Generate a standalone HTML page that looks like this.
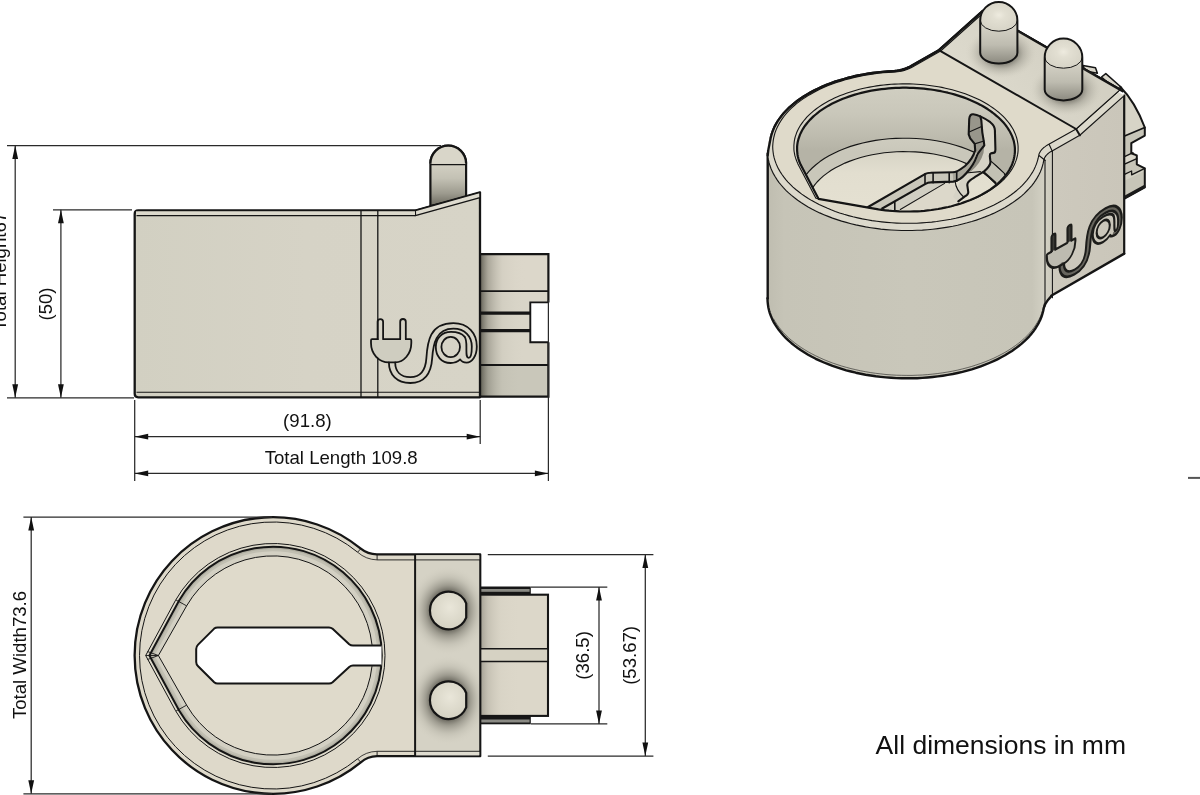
<!DOCTYPE html>
<html lang="en">
<head>
<meta charset="utf-8">
<title>Part drawing</title>
<style>
html,body{margin:0;padding:0;background:#fff;}
body{width:1200px;height:795px;overflow:hidden;font-family:"Liberation Sans",sans-serif;}
svg{display:block;}
svg text{font-family:"Liberation Sans",sans-serif;fill:#111;}
svg{will-change:transform;}
</style>
</head>
<body>
<svg width="1200" height="795" viewBox="0 0 1200 795">
<defs>
<linearGradient id="gBody" x1="0" y1="0" x2="1" y2="0">
  <stop offset="0" stop-color="#d2d0c2"/>
  <stop offset="0.5" stop-color="#d6d3c6"/>
  <stop offset="1" stop-color="#d7d4c7"/>
</linearGradient>
<linearGradient id="gConnH" x1="0" y1="0" x2="1" y2="0">
  <stop offset="0" stop-color="#3a392f" stop-opacity="0.75"/>
  <stop offset="0.18" stop-color="#6e6c60" stop-opacity="0.45"/>
  <stop offset="0.5" stop-color="#a09e90" stop-opacity="0.12"/>
  <stop offset="1" stop-color="#d8d4c6" stop-opacity="0"/>
</linearGradient>
<linearGradient id="gPinSide" gradientUnits="userSpaceOnUse" x1="0" y1="146" x2="0" y2="205">
  <stop offset="0" stop-color="#d9d6c9"/>
  <stop offset="0.32" stop-color="#d2cfc2"/>
  <stop offset="0.55" stop-color="#c3c1b4"/>
  <stop offset="0.8" stop-color="#9d9b8f"/>
  <stop offset="1" stop-color="#6f6d62"/>
</linearGradient>
<radialGradient id="gPinShadow" cx="0.5" cy="0.5" r="0.5">
  <stop offset="0" stop-color="#4d4b43" stop-opacity="0.9"/>
  <stop offset="0.44" stop-color="#55534a" stop-opacity="0.8"/>
  <stop offset="0.56" stop-color="#66645a" stop-opacity="0.5"/>
  <stop offset="0.75" stop-color="#8a887c" stop-opacity="0.2"/>
  <stop offset="1" stop-color="#d6d2c3" stop-opacity="0"/>
</radialGradient>
<radialGradient id="gPinTop" cx="0.55" cy="0.42" r="0.6">
  <stop offset="0" stop-color="#e9e6d9"/>
  <stop offset="1" stop-color="#d4d1c2"/>
</radialGradient>
<radialGradient id="gBoreRing" gradientUnits="userSpaceOnUse" cx="273" cy="655.5" r="109">
  <stop offset="0.9" stop-color="#d9d6c8"/>
  <stop offset="0.96" stop-color="#c4c2b4"/>
  <stop offset="1" stop-color="#a9a79a"/>
</radialGradient>
<linearGradient id="gIsoCyl" gradientUnits="userSpaceOnUse" x1="767" y1="0" x2="1052" y2="0">
  <stop offset="0" stop-color="#bfbdb0"/>
  <stop offset="0.06" stop-color="#c6c4b7"/>
  <stop offset="0.5" stop-color="#c9c7ba"/>
  <stop offset="0.93" stop-color="#c7c5b8"/>
  <stop offset="0.975" stop-color="#d3d1c4"/>
  <stop offset="1" stop-color="#cccabd"/>
</linearGradient>
<linearGradient id="gIsoFace" gradientUnits="userSpaceOnUse" x1="1052" y1="0" x2="1124" y2="0">
  <stop offset="0" stop-color="#cdc9bd"/>
  <stop offset="1" stop-color="#cac6ba"/>
</linearGradient>
<linearGradient id="gIsoWall" gradientUnits="userSpaceOnUse" x1="0" y1="85" x2="0" y2="150">
  <stop offset="0" stop-color="#d1cfc2"/>
  <stop offset="0.45" stop-color="#c9c7ba"/>
  <stop offset="0.8" stop-color="#bdbbae"/>
  <stop offset="1" stop-color="#b5b3a6"/>
</linearGradient>
<linearGradient id="gIsoLedge" gradientUnits="userSpaceOnUse" x1="0" y1="137" x2="0" y2="152">
  <stop offset="0" stop-color="#cfcdc0"/>
  <stop offset="1" stop-color="#c9c7ba"/>
</linearGradient>
<linearGradient id="gIsoFloor" gradientUnits="userSpaceOnUse" x1="0" y1="150" x2="0" y2="215">
  <stop offset="0" stop-color="#d6d3c5"/>
  <stop offset="0.35" stop-color="#e2decf"/>
  <stop offset="1" stop-color="#e5e1d2"/>
</linearGradient>
<linearGradient id="gIsoSlope" gradientUnits="userSpaceOnUse" x1="960" y1="90" x2="1040" y2="20">
  <stop offset="0" stop-color="#dedbce"/>
  <stop offset="1" stop-color="#d3d0c3"/>
</linearGradient>
<linearGradient id="gIsoPin" x1="0" y1="0" x2="0" y2="1">
  <stop offset="0" stop-color="#dddace"/>
  <stop offset="0.4" stop-color="#d4d1c5"/>
  <stop offset="0.7" stop-color="#bebcb0"/>
  <stop offset="1" stop-color="#8c8a80"/>
</linearGradient>
<radialGradient id="gIsoDome" cx="0.5" cy="0.45" r="0.7">
  <stop offset="0" stop-color="#eeebdf"/>
  <stop offset="0.25" stop-color="#e2dfd2"/>
  <stop offset="1" stop-color="#d2cfc2"/>
</radialGradient>
<radialGradient id="gIsoPinSh" cx="0.5" cy="0.5" r="0.5">
  <stop offset="0" stop-color="#55534a" stop-opacity="0.9"/>
  <stop offset="0.4" stop-color="#5f5d54" stop-opacity="0.7"/>
  <stop offset="0.6" stop-color="#7c7a70" stop-opacity="0.36"/>
  <stop offset="0.8" stop-color="#9a988c" stop-opacity="0.15"/>
  <stop offset="1" stop-color="#d6d2c3" stop-opacity="0"/>
</radialGradient>

</defs>
<rect width="1200" height="795" fill="#ffffff"/>
<g id="side-view">
<path d="M430.4,206 L430.4,163.5 A17.85,17.85 0 0 1 466.1,163.5 L466.1,198 Z" fill="url(#gPinSide)" stroke="#151515" stroke-width="2.2" stroke-linejoin="round"/>
<path d="M430.4,163.5 A17.85,17.85 0 0 1 466.1,163.5 Z" fill="#d9d6c9"/>
<path d="M430.4,163.5 A17.85,17.85 0 0 1 466.1,163.5" fill="none" stroke="#151515" stroke-width="2.2"/>
<line x1="430.4" y1="164.7" x2="466.1" y2="164.7" stroke="#151515" stroke-width="1.20" />
<rect x="480" y="254.1" width="68.4" height="142.5" fill="#d9d5c8"/>
<rect x="480" y="254.1" width="68.4" height="37" fill="#dcd7ca"/>
<rect x="480" y="365" width="68.4" height="31.6" fill="#c9c7ba"/>
<rect x="480" y="254.1" width="45" height="142.5" fill="url(#gConnH)"/>
<rect x="530.3" y="302.4" width="18.1" height="39.9" fill="#ffffff"/>
<path d="M480,254.1 L548.4,254.1 L548.4,302.4 M548.4,342.3 L548.4,396.6 L480,396.6" fill="none" stroke="#151515" stroke-width="2.2"/>
<line x1="480.0" y1="291.1" x2="548.4" y2="291.1" stroke="#151515" stroke-width="1.90" />
<path d="M548.4,302.4 L530.3,302.4 L530.3,342.3 L548.4,342.3" fill="none" stroke="#151515" stroke-width="1.9"/>
<line x1="480.0" y1="313.2" x2="530.3" y2="313.2" stroke="#151515" stroke-width="3.20" />
<line x1="480.0" y1="330.7" x2="530.3" y2="330.7" stroke="#151515" stroke-width="3.20" />
<line x1="480.0" y1="365.0" x2="548.4" y2="365.0" stroke="#151515" stroke-width="1.90" />
<path d="M138.2,210.5 L415.3,210.5 L480,192.4 L480,397.3 L138.2,397.3 Q134.7,397.3 134.7,393.8 L134.7,214 Q134.7,210.5 138.2,210.5 Z" fill="url(#gBody)" stroke="#151515" stroke-width="2.3" stroke-linejoin="round"/>
<path d="M415.3,210.5 L480,192.4 L480,197.6 L415.3,215.6 Z" fill="#dedbcf" stroke="#151515" stroke-width="1.5" stroke-linejoin="round"/>
<rect x="136" y="211.3" width="279" height="4" fill="#dcd9cc"/>
<line x1="136.5" y1="215.6" x2="415.3" y2="215.6" stroke="#151515" stroke-width="1.10" />
<line x1="136.5" y1="392.2" x2="480.0" y2="392.2" stroke="#151515" stroke-width="1.10" />
<line x1="361.0" y1="211.0" x2="361.0" y2="397.0" stroke="#151515" stroke-width="1.30" />
<line x1="377.8" y1="211.0" x2="377.8" y2="397.0" stroke="#151515" stroke-width="1.30" />
<g fill="none" stroke="#151515" stroke-width="1.8" stroke-linejoin="round" stroke-linecap="round">
<path d="M372,339.9 L410.4,339.9 L410.4,343 C410.4,354 403.8,361.6 395.2,361.6 L388.9,361.6 C379,361.6 372,354 372,343 Z" fill="#cfcdc0" stroke="none"/>
<path d="M377.6,339.2 L377.6,321.8 A2.75,2.75 0 0 1 383.1,321.8 L383.1,339.2 L400.2,339.2 L400.2,321.8 A2.75,2.75 0 0 1 405.8,321.8 L405.8,339.2 L410.3,339.2 Q411.3,339.2 411.3,340.4 L411.3,343 C411.3,354 403.8,362.3 395.2,362.3 C395.2,371.5 400.5,377.2 410.3,377.2 C420.5,377.2 425.6,370.5 426.4,358 C427.4,342 429.5,323.2 453.4,323.2 C468.2,323.2 476.8,333.5 476.8,346.5 C476.8,356.5 471.8,362.6 466.6,362.6 C463.4,362.6 461.2,361.2 460.2,359.4 C457.6,361.8 454.2,363 450.6,363 C441.2,363 435.8,355.8 435.8,347 C435.8,338 442,331.8 451,331.8 C457.5,331.8 462,333.4 464.6,336.8" /><path d="M377.6,339.2 L372,339.2 Q371,339.2 371,340.4 L371,343 C371,354 378.8,362.3 388.9,362.3 C388.9,375 397,383 410.3,383 C424.5,383 431.2,373.6 432.2,358 C433.2,344 436,328.7 453.4,328.7 C465,328.7 471.8,336.4 471.8,346.5 C471.8,353 470.9,357.8 468.7,357.8 C466.5,357.8 466.4,355 466.4,350 C466.4,344 466.8,339.6 464.6,336.8" /><path d="M388.9,362.3 L395.2,362.3" /><ellipse cx="450.7" cy="347" rx="9.3" ry="10.2"/>
</g>
</g>
</g>
<g id="top-view">
<rect x="480" y="586.5" width="50.8" height="137.8" fill="#161616"/>
<rect x="481" y="589" width="48.6" height="2.8" fill="#8a8a84"/>
<rect x="481" y="719.5" width="48.6" height="3" fill="#8a8a84"/>
<rect x="480" y="594.7" width="68" height="121.2" fill="#dcd7c9" stroke="#151515" stroke-width="2.1"/>
<rect x="480.9" y="595.6" width="40" height="119.4" fill="url(#gConnH)" opacity="0.45"/>
<rect x="480.9" y="649" width="66.2" height="12.6" fill="#d6d2c3"/>
<line x1="480.0" y1="648.8" x2="548.0" y2="648.8" stroke="#151515" stroke-width="1.50" />
<line x1="480.0" y1="661.6" x2="548.0" y2="661.6" stroke="#151515" stroke-width="1.50" />
<path d="M414.9,554.4 L480.2,554.4 L480.2,756.2 L377.1,756.2 A25.6,25.6 0 0 0 360.8,762.3 A138.3,138.3 0 1 1 360.8,548.7 A25.6,25.6 0 0 0 377.1,554.4 Z" fill="#ded9ca" stroke="#151515" stroke-width="2.3" stroke-linejoin="round"/>
<rect x="415.8" y="555.4" width="63.4" height="199.8" fill="#d5d2c5"/>
<rect x="415.8" y="555.4" width="63.4" height="4.5" fill="#dedbcf"/>
<rect x="415.8" y="751.3" width="63.4" height="4" fill="#dedbcf"/>
<clipPath id="cpBlock"><rect x="416" y="555.5" width="63.3" height="199.6"/></clipPath>
<ellipse cx="448" cy="610.5" rx="40" ry="45" fill="url(#gPinShadow)" clip-path="url(#cpBlock)"/>
<path d="M466.2,617.7 A18.85,18.85 0 1 1 466.2,603.3 Z" fill="url(#gPinTop)" stroke="#151515" stroke-width="2.2"/>
<ellipse cx="448" cy="700.2" rx="40" ry="45" fill="url(#gPinShadow)" clip-path="url(#cpBlock)"/>
<path d="M466.2,707.4 A18.85,18.85 0 1 1 466.2,693.0 Z" fill="url(#gPinTop)" stroke="#151515" stroke-width="2.2"/>
<path d="M357.6,758.8 A133.5,133.5 0 1 1 357.6,552.2" fill="none" stroke="#151515" stroke-width="1.0"/>
<path d="M357.6,552.2 A31,31 0 0 0 377.1,559.9 M357.6,758.8 A31,31 0 0 1 377.1,751.3" fill="none" stroke="#151515" stroke-width="0.8"/>
<path d="M377.1,554.4 L377.1,559.9 M360.8,548.7 L357.6,552.2" fill="none" stroke="#151515" stroke-width="0.9"/>
<path d="M377.1,756.2 L377.1,751.3 M360.8,762.3 L357.6,758.8" fill="none" stroke="#151515" stroke-width="0.9"/>
<line x1="377.1" y1="559.9" x2="480.0" y2="559.9" stroke="#151515" stroke-width="0.90" />
<line x1="377.1" y1="751.3" x2="480.0" y2="751.3" stroke="#151515" stroke-width="0.90" />
<line x1="415.1" y1="554.4" x2="415.1" y2="756.2" stroke="#151515" stroke-width="2.00" />
<path d="M145.7,655.5 L175.6,600.2 A112.0,112.0 0 1 1 175.6,710.8 Z" fill="#dedacb" stroke="#151515" stroke-width="1.0" stroke-linejoin="round"/>
<clipPath id="cpTopBore"><path d="M149.4,655.5 L179.1,600.5 A108.8,108.8 0 1 1 179.1,710.5 Z"/></clipPath>
<path d="M149.4,655.5 L179.1,600.5 A108.8,108.8 0 1 1 179.1,710.5 Z" fill="#d3d0c3"/>
<g clip-path="url(#cpTopBore)"><path d="M149.4,655.5 L179.1,600.5 A108.8,108.8 0 1 1 179.1,710.5 Z" fill="none" stroke="#b3b1a4" stroke-width="9" opacity="0.55"/><path d="M149.4,655.5 L179.1,600.5 A108.8,108.8 0 1 1 179.1,710.5 Z" fill="none" stroke="#a3a195" stroke-width="4.5" opacity="0.6"/></g>
<path d="M149.4,655.5 L179.1,600.5 A108.8,108.8 0 1 1 179.1,710.5 Z" fill="none" stroke="#151515" stroke-width="2.0" stroke-linejoin="round"/>
<path d="M158.4,655.5 L186.6,605.9 A99.6,99.6 0 1 1 186.6,705.1 Z" fill="#dfdacb" stroke="#151515" stroke-width="1.0" stroke-linejoin="round"/>
<path d="M176,600 L186.7,605.9 M176,711 L186.7,705.1 M145.7,655.5 L158.4,655.5 M147.5,651.5 L158.4,655.5 M147.5,659.5 L158.4,655.5" fill="none" stroke="#151515" stroke-width="0.9"/>
<path d="M198.1,644.6 L214.2,628.6 Q215.6,627.4 217.6,627.4 L329,627.4 Q331,627.4 332.6,628.8 L349.2,644.2 Q350.8,645.6 353,645.6 L381.5,645.6 L381.5,665.5 L353,665.5 Q350.8,665.5 349.2,666.9 L332.6,682.2 Q331,683.5 329,683.5 L217.6,683.5 Q215.6,683.5 214.2,682.2 L198.1,666.3 Q196.2,664.4 196.2,662 L196.2,649 Q196.2,646.5 198.1,644.6 Z" fill="#ffffff"/>
<path d="M381.5,645.6 L353,645.6 Q350.8,645.6 349.2,644.2 L332.6,628.8 Q331,627.4 329,627.4 L217.6,627.4 Q215.6,627.4 214.2,628.6 L198.1,644.6 Q196.2,646.5 196.2,649 L196.2,662 Q196.2,664.4 198.1,666.3 L214.2,682.2 Q215.6,683.5 217.6,683.5 L329,683.5 Q331,683.5 332.6,682.2 L349.2,666.9 Q350.8,665.5 353,665.5 L381.5,665.5" fill="none" stroke="#151515" stroke-width="2.0" stroke-linejoin="round"/>
</g>
<g id="iso-view" stroke-linejoin="round" stroke-linecap="round">
<g stroke-linejoin="round">
<path d="M1083,65.6 L1095.5,67.8 L1097.4,73.2 L1085,71 Z" fill="#d9d6ca" stroke="#151515" stroke-width="1.5"/>
<path d="M1101.5,77 L1105.8,73.6 L1121.5,87.5 L1116,90 Z" fill="#d9d6ca" stroke="#151515" stroke-width="1.5"/>
<path d="M1120.2,86.7 C1130,96.5 1139,112 1144.8,127.5 L1144.8,135.6 L1124,147 L1124,92 Z" fill="#d7d4c7"/>
<path d="M1124,136.3 L1144.8,127.5 L1144.8,135.6 L1131.3,143.1 L1131.3,153.2 L1136.8,155.4 L1136.8,164.3 L1144.8,168.3 L1144.8,187.4 L1124,198.8 Z" fill="#c7c5b8"/>
<path d="M1124,156.8 L1133,152.6 L1136.8,155.4 L1136.8,158.6 L1124,164.4 Z" fill="#dad7cb"/>
<path d="M1124,174.6 L1131.6,171 L1131.6,174.8 L1144.8,168.3 L1144.8,171 L1124,181 Z" fill="#d2d0c3"/>
<path d="M1120.2,86.7 C1130,96.5 1139,112 1144.8,127.5 L1144.8,135.6 L1131.3,143.1 L1131.3,153.2 L1136.8,155.4 L1136.8,164.3 L1144.8,168.3 L1144.8,187.4 L1124,198.8" fill="none" stroke="#151515" stroke-width="2"/>
<path d="M1124,136.3 L1144.8,127.5" fill="none" stroke="#151515" stroke-width="1.7"/>
<path d="M1124,156.8 L1133,152.6 M1124,164.4 L1136.8,158.6 M1124,174.6 L1131.6,171 L1131.6,174.8 L1144.8,168.3" fill="none" stroke="#151515" stroke-width="1.3"/>
<path d="M1126,196.6 L1144.2,186.6" fill="none" stroke="#1a1a1a" stroke-width="3"/>
</g>
<path d="M767.5,298.3 L767.6,301.3 L767.9,304.3 L768.3,307.2 L769.0,310.2 L769.8,313.1 L770.9,316.0 L772.1,318.9 L773.5,321.8 L775.2,324.6 L777.0,327.4 L778.9,330.1 L781.1,332.8 L783.4,335.5 L785.9,338.1 L788.6,340.7 L791.5,343.2 L794.5,345.6 L797.7,348.0 L801.0,350.3 L804.5,352.5 L808.1,354.7 L811.8,356.8 L815.7,358.8 L819.7,360.7 L823.9,362.5 L828.1,364.2 L832.5,365.9 L837.0,367.4 L841.6,368.9 L846.2,370.3 L851.0,371.5 L855.8,372.7 L860.7,373.7 L865.6,374.7 L870.7,375.5 L875.7,376.3 L880.8,376.9 L886.0,377.4 L891.2,377.8 L896.3,378.1 L901.6,378.3 L906.8,378.3 L912.0,378.3 L917.2,378.2 L922.4,377.9 L927.5,377.5 L932.7,377.0 L937.8,376.4 L942.8,375.7 L947.8,374.9 L952.8,374.0 L957.6,373.0 L962.5,371.9 L967.2,370.6 L971.8,369.3 L976.3,367.9 L980.8,366.3 L985.1,364.7 L989.3,363.0 L993.5,361.2 L997.4,359.3 L1001.3,357.3 L1005.0,355.3 L1008.6,353.1 L1012.0,350.9 L1015.3,348.6 L1018.4,346.3 L1021.4,343.9 L1024.2,341.4 L1026.8,338.9 L1029.3,336.3 L1031.6,333.6 L1033.7,330.9 L1035.6,328.2 L1037.3,325.4 L1038.9,322.6 L1040.3,319.7 L1041.5,316.8 L1042.4,313.9 L1043.2,311.0 L1043.8,308.1 L1044.1,307.0 L1044.4,306.0 L1044.9,304.9 L1045.5,303.7 L1046.2,302.6 L1047.0,301.4 L1047.9,300.1 L1048.9,298.9 L1050.0,297.6 L1051.2,296.4 L1051.2,151.4 L1050.0,152.1 L1048.9,152.9 L1047.9,153.7 L1047.0,154.6 L1046.2,155.4 L1045.5,156.4 L1044.9,157.3 L1044.4,158.3 L1044.1,159.3 L1043.8,160.2 L1043.2,163.2 L1042.4,166.1 L1041.5,169.0 L1040.3,171.9 L1038.9,174.7 L1037.3,177.6 L1035.6,180.4 L1033.7,183.1 L1031.6,185.8 L1029.3,188.4 L1026.8,191.0 L1024.2,193.6 L1021.4,196.1 L1018.4,198.5 L1015.3,200.8 L1012.0,203.1 L1008.6,205.3 L1005.0,207.5 L1001.3,209.5 L997.4,211.5 L993.5,213.4 L989.3,215.2 L985.1,216.9 L980.8,218.5 L976.3,220.1 L971.8,221.5 L967.2,222.8 L962.5,224.0 L957.6,225.2 L952.8,226.2 L947.8,227.1 L942.8,227.9 L937.8,228.6 L932.7,229.2 L927.5,229.7 L922.4,230.1 L917.2,230.3 L912.0,230.5 L906.8,230.5 L901.6,230.5 L896.3,230.3 L891.2,230.0 L886.0,229.6 L880.8,229.1 L875.7,228.4 L870.7,227.7 L865.6,226.9 L860.7,225.9 L855.8,224.9 L851.0,223.7 L846.2,222.4 L841.6,221.1 L837.0,219.6 L832.5,218.1 L828.1,216.4 L823.9,214.7 L819.7,212.9 L815.7,211.0 L811.8,209.0 L808.1,206.9 L804.5,204.7 L801.0,202.5 L797.7,200.2 L794.5,197.8 L791.5,195.4 L788.6,192.9 L785.9,190.3 L783.4,187.7 L781.1,185.0 L778.9,182.3 L777.0,179.6 L775.2,176.8 L773.5,173.9 L772.1,171.1 L770.9,168.2 L769.8,165.3 L769.0,162.4 L768.3,159.4 L767.9,156.5 L767.6,153.5 L767.5,150.5 Z" fill="url(#gIsoCyl)"/>
<path d="M1051.2,151.4 L1079.8,135.3 L1124.2,95.6 L1124.2,253.6 L1051.2,295.8 Z" fill="url(#gIsoFace)"/>
<path d="M767.5,298.3 L767.6,301.3 L767.9,304.3 L768.3,307.2 L769.0,310.2 L769.8,313.1 L770.9,316.0 L772.1,318.9 L773.5,321.8 L775.2,324.6 L777.0,327.4 L778.9,330.1 L781.1,332.8 L783.4,335.5 L785.9,338.1 L788.6,340.7 L791.5,343.2 L794.5,345.6 L797.7,348.0 L801.0,350.3 L804.5,352.5 L808.1,354.7 L811.8,356.8 L815.7,358.8 L819.7,360.7 L823.9,362.5 L828.1,364.2 L832.5,365.9 L837.0,367.4 L841.6,368.9 L846.2,370.3 L851.0,371.5 L855.8,372.7 L860.7,373.7 L865.6,374.7 L870.7,375.5 L875.7,376.3 L880.8,376.9 L886.0,377.4 L891.2,377.8 L896.3,378.1 L901.6,378.3 L906.8,378.3 L912.0,378.3 L917.2,378.2 L922.4,377.9 L927.5,377.5 L932.7,377.0 L937.8,376.4 L942.8,375.7 L947.8,374.9 L952.8,374.0 L957.6,373.0 L962.5,371.9 L967.2,370.6 L971.8,369.3 L976.3,367.9 L980.8,366.3 L985.1,364.7 L989.3,363.0 L993.5,361.2 L997.4,359.3 L1001.3,357.3 L1005.0,355.3 L1008.6,353.1 L1012.0,350.9 L1015.3,348.6 L1018.4,346.3 L1021.4,343.9 L1024.2,341.4 L1026.8,338.9 L1029.3,336.3 L1031.6,333.6 L1033.7,330.9 L1035.6,328.2 L1037.3,325.4 L1038.9,322.6 L1040.3,319.7 L1041.5,316.8 L1042.4,313.9 L1043.2,311.0 L1043.8,308.1 L1044.1,307.0 L1044.4,306.0 L1044.9,304.9 L1045.5,303.7 L1046.2,302.6 L1047.0,301.4 L1047.9,300.1 L1048.9,298.9 L1050.0,297.6 L1051.2,296.4 L1051.2,295.8 L1124.2,253.6" fill="none" stroke="#151515" stroke-width="2.4"/>
<line x1="767.7" y1="153.5" x2="767.7" y2="298.3" stroke="#151515" stroke-width="2.40" />
<line x1="1124.2" y1="95.6" x2="1124.2" y2="253.6" stroke="#151515" stroke-width="2.20" />
<path d="M982.8,10.9 L938.4,50.6 L909.8,66.7 L908.4,67.4 L907.0,68.1 L905.4,68.7 L903.8,69.2 L902.1,69.7 L900.3,70.1 L898.5,70.5 L896.7,70.8 L894.8,71.0 L892.9,71.1 L887.8,71.4 L882.7,71.8 L877.7,72.3 L872.7,73.0 L867.7,73.7 L862.8,74.6 L858.0,75.5 L853.2,76.5 L848.5,77.7 L843.9,79.0 L839.4,80.3 L834.9,81.7 L830.6,83.3 L826.4,84.9 L822.3,86.6 L818.3,88.5 L814.4,90.4 L810.7,92.3 L807.0,94.4 L803.6,96.5 L800.3,98.7 L797.1,101.0 L794.1,103.4 L791.2,105.8 L788.5,108.2 L786.0,110.8 L783.7,113.3 L781.5,116.0 L779.5,118.6 L777.6,121.4 L776.0,124.1 L774.5,126.9 L773.3,129.7 L772.2,132.6 L771.3,135.4 L770.6,138.3 L770.1,141.2 L769.8,144.1 L769.6,147.1 L769.7,150.0 L770.0,152.9 L770.4,155.8 L771.1,158.7 L771.9,161.6 L772.9,164.5 L774.1,167.3 L775.5,170.1 L777.1,172.9 L778.9,175.7 L780.9,178.4 L783.0,181.0 L785.3,183.7 L787.8,186.2 L790.4,188.7 L793.2,191.2 L796.2,193.6 L799.3,195.9 L802.6,198.2 L806.0,200.4 L809.6,202.5 L813.3,204.6 L817.1,206.6 L821.1,208.4 L825.1,210.2 L829.3,212.0 L833.6,213.6 L838.0,215.1 L842.5,216.5 L847.1,217.9 L851.8,219.1 L856.5,220.3 L861.4,221.3 L866.3,222.2 L871.2,223.1 L876.2,223.8 L881.2,224.4 L886.3,224.9 L891.4,225.3 L896.5,225.6 L901.6,225.8 L906.8,225.8 L911.9,225.8 L917.0,225.7 L922.1,225.4 L927.2,225.0 L932.3,224.5 L937.3,224.0 L942.3,223.3 L947.2,222.5 L952.1,221.6 L956.9,220.6 L961.6,219.4 L966.2,218.2 L970.8,216.9 L975.3,215.5 L979.7,214.0 L983.9,212.4 L988.1,210.7 L992.1,209.0 L996.0,207.1 L999.8,205.1 L1003.5,203.1 L1007.0,201.0 L1010.4,198.8 L1013.6,196.6 L1016.7,194.3 L1019.6,191.9 L1022.4,189.4 L1025.0,186.9 L1027.4,184.4 L1029.7,181.8 L1031.7,179.1 L1033.6,176.4 L1035.4,173.7 L1036.9,170.9 L1038.2,168.1 L1039.4,165.3 L1040.4,162.4 L1041.2,159.5 L1041.7,156.6 L1042.0,155.5 L1042.4,154.5 L1042.9,153.4 L1043.5,152.4 L1044.3,151.4 L1045.1,150.5 L1046.1,149.5 L1047.2,148.7 L1048.4,147.8 L1049.7,147.0 L1078.3,131.0" fill="#dcd9cc" stroke="#151515" stroke-width="2.3"/>
<path d="M981.3,13.6 L936.9,53.2 L908.3,69.3 L907.1,70.0 L905.7,70.6 L904.2,71.2 L902.7,71.7 L901.2,72.1 L899.5,72.5 L897.9,72.8 L896.2,73.1 L894.4,73.3 L892.7,73.4 L887.5,73.7 L882.4,74.1 L877.2,74.7 L872.2,75.3 L867.1,76.1 L862.1,76.9 L857.2,77.9 L852.4,78.9 L847.6,80.1 L842.9,81.4 L838.3,82.8 L833.8,84.2 L829.4,85.8 L825.1,87.4 L821.0,89.2 L816.9,91.0 L813.0,93.0 L809.2,95.0 L805.5,97.1 L802.0,99.2 L798.6,101.5 L795.4,103.8 L792.4,106.2 L789.5,108.6 L786.7,111.1 L784.2,113.7 L781.8,116.3 L779.6,119.0 L777.5,121.7 L775.7,124.4 L774.0,127.2 L772.5,130.1 L771.2,132.9 L770.1,135.8 L769.2,138.7 L768.5,141.7 L768.0,144.6 L767.7,147.6 L767.5,150.5 L767.6,153.5 L767.9,156.5 L768.3,159.4 L769.0,162.4 L769.8,165.3 L770.9,168.2 L772.1,171.1 L773.5,173.9 L775.2,176.8 L777.0,179.6 L778.9,182.3 L781.1,185.0 L783.4,187.7 L785.9,190.3 L788.6,192.9 L791.5,195.4 L794.5,197.8 L797.7,200.2 L801.0,202.5 L804.5,204.7 L808.1,206.9 L811.8,209.0 L815.7,211.0 L819.7,212.9 L823.9,214.7 L828.1,216.4 L832.5,218.1 L837.0,219.6 L841.6,221.1 L846.2,222.4 L851.0,223.7 L855.8,224.9 L860.7,225.9 L865.6,226.9 L870.7,227.7 L875.7,228.4 L880.8,229.1 L886.0,229.6 L891.2,230.0 L896.3,230.3 L901.6,230.5 L906.8,230.5 L912.0,230.5 L917.2,230.3 L922.4,230.1 L927.5,229.7 L932.7,229.2 L937.8,228.6 L942.8,227.9 L947.8,227.1 L952.8,226.2 L957.6,225.2 L962.5,224.0 L967.2,222.8 L971.8,221.5 L976.3,220.1 L980.8,218.5 L985.1,216.9 L989.3,215.2 L993.5,213.4 L997.4,211.5 L1001.3,209.5 L1005.0,207.5 L1008.6,205.3 L1012.0,203.1 L1015.3,200.8 L1018.4,198.5 L1021.4,196.1 L1024.2,193.6 L1026.8,191.0 L1029.3,188.4 L1031.6,185.8 L1033.7,183.1 L1035.6,180.4 L1037.3,177.6 L1038.9,174.7 L1040.3,171.9 L1041.5,169.0 L1042.4,166.1 L1043.2,163.2 L1043.8,160.2 L1044.1,159.3 L1044.4,158.3 L1044.9,157.3 L1045.5,156.4 L1046.2,155.4 L1047.0,154.6 L1047.9,153.7 L1048.9,152.9 L1050.0,152.1 L1051.2,151.4 L1079.8,135.3 L1124.2,95.6 Z" fill="#dcd9cc"/>
<path d="M767.5,150.5 L767.6,153.5 L767.9,156.5 L768.3,159.4 L769.0,162.4 L769.8,165.3 L770.9,168.2 L772.1,171.1 L773.5,173.9 L775.2,176.8 L777.0,179.6 L778.9,182.3 L781.1,185.0 L783.4,187.7 L785.9,190.3 L788.6,192.9 L791.5,195.4 L794.5,197.8 L797.7,200.2 L801.0,202.5 L804.5,204.7 L808.1,206.9 L811.8,209.0 L815.7,211.0 L819.7,212.9 L823.9,214.7 L828.1,216.4 L832.5,218.1 L837.0,219.6 L841.6,221.1 L846.2,222.4 L851.0,223.7 L855.8,224.9 L860.7,225.9 L865.6,226.9 L870.7,227.7 L875.7,228.4 L880.8,229.1 L886.0,229.6 L891.2,230.0 L896.3,230.3 L901.6,230.5 L906.8,230.5 L912.0,230.5 L917.2,230.3 L922.4,230.1 L927.5,229.7 L932.7,229.2 L937.8,228.6 L942.8,227.9 L947.8,227.1 L952.8,226.2 L957.6,225.2 L962.5,224.0 L967.2,222.8 L971.8,221.5 L976.3,220.1 L980.8,218.5 L985.1,216.9 L989.3,215.2 L993.5,213.4 L997.4,211.5 L1001.3,209.5 L1005.0,207.5 L1008.6,205.3 L1012.0,203.1 L1015.3,200.8 L1018.4,198.5 L1021.4,196.1 L1024.2,193.6 L1026.8,191.0 L1029.3,188.4 L1031.6,185.8 L1033.7,183.1 L1035.6,180.4 L1037.3,177.6 L1038.9,174.7 L1040.3,171.9 L1041.5,169.0 L1042.4,166.1 L1043.2,163.2 L1043.8,160.2 L1044.1,159.3 L1044.4,158.3 L1044.9,157.3 L1045.5,156.4 L1046.2,155.4 L1047.0,154.6 L1047.9,153.7 L1048.9,152.9 L1050.0,152.1 L1051.2,151.4 L1079.8,135.3 L1124.2,95.6" fill="none" stroke="#151515" stroke-width="1.15"/>
<path d="M985.0,11.4 L940.6,51.1 L912.0,67.2 L910.5,68.0 L908.8,68.8 L907.1,69.4 L905.3,70.1 L903.4,70.6 L901.4,71.1 L899.4,71.5 L897.4,71.8 L895.3,72.0 L893.2,72.1 L888.2,72.4 L883.2,72.8 L878.3,73.3 L873.4,74.0 L868.6,74.7 L863.8,75.5 L859.1,76.4 L854.4,77.4 L849.8,78.6 L845.3,79.8 L840.9,81.1 L836.5,82.5 L832.3,84.0 L828.2,85.6 L824.2,87.3 L820.3,89.1 L816.5,90.9 L812.8,92.9 L809.3,94.9 L805.9,97.0 L802.7,99.1 L799.6,101.4 L796.6,103.6 L793.8,106.0 L791.2,108.4 L788.7,110.9 L786.4,113.4 L784.3,116.0 L782.3,118.6 L780.6,121.2 L779.0,123.9 L777.5,126.7 L776.3,129.4 L775.2,132.2 L774.4,135.0 L773.7,137.8 L773.2,140.7 L772.9,143.5 L772.7,146.4 L772.8,149.2 L773.1,152.1 L773.5,154.9 L774.1,157.7 L775.0,160.6 L776.0,163.4 L777.1,166.1 L778.5,168.9 L780.1,171.6 L781.8,174.3 L783.7,176.9 L785.8,179.6 L788.0,182.1 L790.5,184.6 L793.0,187.1 L795.8,189.5 L798.7,191.8 L801.7,194.1 L804.9,196.3 L808.3,198.5 L811.8,200.6 L815.4,202.6 L819.1,204.5 L823.0,206.3 L827.0,208.1 L831.1,209.8 L835.3,211.4 L839.6,212.9 L844.0,214.3 L848.5,215.6 L853.0,216.8 L857.7,217.9 L862.4,218.9 L867.2,219.8 L872.0,220.6 L876.9,221.3 L881.8,221.9 L886.7,222.4 L891.7,222.8 L896.7,223.1 L901.7,223.3 L906.7,223.3 L911.8,223.3 L916.8,223.2 L921.8,222.9 L926.7,222.5 L931.7,222.1 L936.6,221.5 L941.4,220.8 L946.3,220.0 L951.0,219.2 L955.7,218.2 L960.3,217.1 L964.9,215.9 L969.3,214.6 L973.7,213.3 L978.0,211.8 L982.1,210.2 L986.2,208.6 L990.2,206.8 L994.0,205.0 L997.7,203.1 L1001.3,201.1 L1004.7,199.1 L1008.0,197.0 L1011.2,194.8 L1014.2,192.5 L1017.0,190.2 L1019.7,187.8 L1022.3,185.3 L1024.6,182.8 L1026.8,180.3 L1028.9,177.7 L1030.7,175.0 L1032.4,172.4 L1033.9,169.7 L1035.2,166.9 L1036.4,164.1 L1037.3,161.3 L1038.1,158.5 L1038.7,155.7 L1038.9,154.5 L1039.3,153.3 L1039.9,152.2 L1040.6,151.0 L1041.5,149.9 L1042.4,148.9 L1043.5,147.8 L1044.8,146.9 L1046.1,145.9 L1047.5,145.0 L1076.1,129.0 L1120.5,89.3 Z" fill="#dfdaca" stroke="#151515" stroke-width="1.1"/>
<path d="M940.6,51.1 L1076.1,129.0 L1120.5,89.3 L985.0,11.4 Z" fill="url(#gIsoSlope)"/>
<path d="M940.6,51.1 L1076.1,129.0 L1079.8,135.3" fill="none" stroke="#151515" stroke-width="2.0"/>
<path d="M1076.1,129.0 L1120.5,89.3 L985.0,11.4 L940.6,51.1" fill="none" stroke="#151515" stroke-width="1.1"/>
<path d="M1122.7,91.3 L982.8,10.9 L938.4,50.6 L909.8,66.7 L908.4,67.4 L907.0,68.1 L905.4,68.7 L903.8,69.2 L902.1,69.7 L900.3,70.1 L898.5,70.5 L896.7,70.8 L894.8,71.0 L892.9,71.1 L887.8,71.4 L882.7,71.8 L877.7,72.3 L872.7,73.0 L867.7,73.7 L862.8,74.6 L858.0,75.5 L853.2,76.5 L848.5,77.7 L843.9,79.0 L839.4,80.3 L834.9,81.7 L830.6,83.3 L826.4,84.9 L822.3,86.6 L818.3,88.5 L814.4,90.4 L810.7,92.3 L807.0,94.4 L803.6,96.5 L800.3,98.7 L797.1,101.0 L794.1,103.4 L791.2,105.8 L788.5,108.2 L786.0,110.8 L783.7,113.3 L781.5,116.0 L779.5,118.6 L777.6,121.4 L776.0,124.1 L774.5,126.9 L773.3,129.7 L772.2,132.6 L771.3,135.4 L770.6,138.3 L768.4,149.5 L767.7,155.5" fill="none" stroke="#151515" stroke-width="2.3"/>
<path d="M815.9,198.3 L797.9,163.9 L797.0,161.8 L796.2,159.8 L795.5,157.7 L794.9,155.7 L794.5,153.6 L794.1,151.5 L793.9,149.4 L793.9,147.3 L793.9,145.2 L794.1,143.1 L794.3,141.1 L794.7,139.0 L795.2,136.9 L795.9,134.9 L796.6,132.8 L797.5,130.8 L798.5,128.8 L799.6,126.8 L800.8,124.8 L802.2,122.9 L803.6,121.0 L805.2,119.1 L806.8,117.2 L808.6,115.4 L810.5,113.6 L812.5,111.9 L814.5,110.2 L816.7,108.5 L819.0,106.9 L821.4,105.3 L823.8,103.7 L826.4,102.2 L829.0,100.8 L831.7,99.4 L834.5,98.1 L837.4,96.8 L840.3,95.5 L843.3,94.4 L846.4,93.2 L849.6,92.2 L852.8,91.2 L856.1,90.2 L859.4,89.3 L862.7,88.5 L866.2,87.8 L869.6,87.1 L873.1,86.5 L876.7,85.9 L880.2,85.4 L883.8,85.0 L887.4,84.6 L891.1,84.3 L894.7,84.1 L898.4,84.0 L902.1,83.9 L905.8,83.9 L909.4,83.9 L913.1,84.0 L916.8,84.2 L920.4,84.5 L924.1,84.8 L927.7,85.2 L931.3,85.7 L934.9,86.2 L938.4,86.8 L941.9,87.4 L945.4,88.2 L948.8,89.0 L952.2,89.8 L955.5,90.7 L958.8,91.7 L962.0,92.7 L965.2,93.8 L968.3,95.0 L971.3,96.2 L974.2,97.4 L977.1,98.8 L979.9,100.1 L982.7,101.6 L985.3,103.0 L987.9,104.5 L990.3,106.1 L992.7,107.7 L995.0,109.4 L997.2,111.1 L999.3,112.8 L1001.3,114.6 L1003.2,116.4 L1004.9,118.2 L1006.6,120.1 L1008.2,122.0 L1009.7,123.9 L1011.0,125.9 L1012.2,127.8 L1013.4,129.8 L1014.4,131.9 L1015.3,133.9 L1016.0,135.9 L1016.7,138.0 L1017.2,140.1 L1017.6,142.2 L1017.9,144.2 L1018.1,146.3 L1018.1,148.4 L1018.1,150.5 L1017.9,152.6 L1017.6,154.7 L1017.1,156.8 L1016.6,158.8 L1015.9,160.9 L1015.1,162.9 L1014.2,164.9 L1013.2,166.9 L1012.1,168.9 L1010.8,170.9 L1009.5,172.8 L1008.0,174.7 L1006.4,176.6 L1004.7,178.5 L1002.9,180.3 L1001.0,182.0 L999.0,183.8 L996.9,185.5 L994.7,187.1 L992.4,188.8 L990.0,190.3 L987.5,191.9 L985.0,193.3 L982.3,194.8 L979.6,196.2 L976.7,197.5 L973.9,198.8 L970.9,200.0 L967.8,201.1 L964.7,202.3 L961.6,203.3 L958.4,204.3 L955.1,205.2 L951.7,206.1 L948.4,206.9 L944.9,207.6 L941.5,208.3 L937.9,208.9 L934.4,209.4 L930.8,209.9 L927.2,210.3 L923.6,210.7 L920.0,210.9 L916.3,211.1 L912.6,211.3 L909.0,211.3 L905.3,211.3 L901.6,211.3 L897.9,211.1 L894.3,210.9 L890.6,210.6 L887.0,210.3 L883.4,209.9 L879.8,209.4 L876.2,208.9 Z" fill="#d9d6c9" stroke="#151515" stroke-width="1.1"/>
<clipPath id="cpBore"><path d="M818.5,198.8 L800.6,164.6 L799.8,162.7 L799.0,160.7 L798.4,158.7 L797.9,156.7 L797.5,154.7 L797.3,152.6 L797.1,150.6 L797.1,148.6 L797.1,146.6 L797.3,144.6 L797.6,142.6 L798.1,140.6 L798.6,138.6 L799.3,136.6 L800.0,134.6 L800.9,132.7 L801.9,130.7 L803.0,128.8 L804.2,126.9 L805.6,125.0 L807.0,123.2 L808.5,121.4 L810.2,119.6 L811.9,117.9 L813.7,116.1 L815.7,114.5 L817.7,112.8 L819.8,111.2 L822.1,109.6 L824.4,108.1 L826.8,106.6 L829.3,105.2 L831.8,103.8 L834.5,102.5 L837.2,101.2 L840.0,100.0 L842.9,98.8 L845.8,97.7 L848.8,96.6 L851.8,95.6 L854.9,94.6 L858.1,93.7 L861.3,92.9 L864.6,92.1 L867.9,91.4 L871.3,90.7 L874.7,90.1 L878.1,89.6 L881.5,89.2 L885.0,88.8 L888.5,88.4 L892.0,88.1 L895.6,87.9 L899.1,87.8 L902.7,87.7 L906.2,87.7 L909.8,87.8 L913.3,87.9 L916.9,88.1 L920.4,88.4 L923.9,88.7 L927.4,89.1 L930.9,89.5 L934.3,90.0 L937.7,90.6 L941.1,91.2 L944.5,92.0 L947.8,92.7 L951.0,93.5 L954.3,94.4 L957.4,95.4 L960.5,96.4 L963.6,97.4 L966.6,98.5 L969.5,99.7 L972.3,100.9 L975.1,102.2 L977.8,103.5 L980.5,104.9 L983.0,106.3 L985.5,107.8 L987.9,109.3 L990.2,110.9 L992.4,112.5 L994.5,114.1 L996.5,115.8 L998.5,117.5 L1000.3,119.2 L1002.0,121.0 L1003.7,122.8 L1005.2,124.6 L1006.6,126.5 L1007.9,128.4 L1009.1,130.3 L1010.2,132.2 L1011.2,134.2 L1012.1,136.1 L1012.8,138.1 L1013.5,140.1 L1014.0,142.1 L1014.4,144.1 L1014.7,146.1 L1014.9,148.2 L1014.9,150.2 L1014.9,152.2 L1014.7,154.2 L1014.4,156.2 L1014.0,158.2 L1013.5,160.2 L1012.9,162.2 L1012.2,164.2 L1011.3,166.2 L1010.3,168.1 L1009.3,170.0 L1008.1,171.9 L1006.8,173.8 L1005.4,175.6 L1003.8,177.5 L1002.2,179.2 L1000.5,181.0 L998.7,182.7 L996.8,184.4 L994.8,186.1 L992.7,187.7 L990.5,189.3 L988.2,190.8 L985.8,192.3 L983.3,193.7 L980.8,195.1 L978.2,196.5 L975.5,197.8 L972.7,199.0 L969.8,200.2 L966.9,201.3 L963.9,202.4 L960.9,203.5 L957.8,204.4 L954.6,205.3 L951.4,206.2 L948.2,207.0 L944.9,207.7 L941.5,208.4 L938.1,209.0 L934.7,209.5 L931.3,210.0 L927.8,210.4 L924.3,210.8 L920.8,211.1 L917.3,211.3 L913.7,211.4 L910.2,211.5 L906.6,211.5 L903.1,211.5 L899.5,211.4 L896.0,211.2 L892.4,211.0 L888.9,210.7 L885.4,210.3 L881.9,209.9 L878.5,209.4 Z"/></clipPath>
<g clip-path="url(#cpBore)">
<path d="M818.5,198.8 L800.6,164.6 L799.8,162.7 L799.0,160.7 L798.4,158.7 L797.9,156.7 L797.5,154.7 L797.3,152.6 L797.1,150.6 L797.1,148.6 L797.1,146.6 L797.3,144.6 L797.6,142.6 L798.1,140.6 L798.6,138.6 L799.3,136.6 L800.0,134.6 L800.9,132.7 L801.9,130.7 L803.0,128.8 L804.2,126.9 L805.6,125.0 L807.0,123.2 L808.5,121.4 L810.2,119.6 L811.9,117.9 L813.7,116.1 L815.7,114.5 L817.7,112.8 L819.8,111.2 L822.1,109.6 L824.4,108.1 L826.8,106.6 L829.3,105.2 L831.8,103.8 L834.5,102.5 L837.2,101.2 L840.0,100.0 L842.9,98.8 L845.8,97.7 L848.8,96.6 L851.8,95.6 L854.9,94.6 L858.1,93.7 L861.3,92.9 L864.6,92.1 L867.9,91.4 L871.3,90.7 L874.7,90.1 L878.1,89.6 L881.5,89.2 L885.0,88.8 L888.5,88.4 L892.0,88.1 L895.6,87.9 L899.1,87.8 L902.7,87.7 L906.2,87.7 L909.8,87.8 L913.3,87.9 L916.9,88.1 L920.4,88.4 L923.9,88.7 L927.4,89.1 L930.9,89.5 L934.3,90.0 L937.7,90.6 L941.1,91.2 L944.5,92.0 L947.8,92.7 L951.0,93.5 L954.3,94.4 L957.4,95.4 L960.5,96.4 L963.6,97.4 L966.6,98.5 L969.5,99.7 L972.3,100.9 L975.1,102.2 L977.8,103.5 L980.5,104.9 L983.0,106.3 L985.5,107.8 L987.9,109.3 L990.2,110.9 L992.4,112.5 L994.5,114.1 L996.5,115.8 L998.5,117.5 L1000.3,119.2 L1002.0,121.0 L1003.7,122.8 L1005.2,124.6 L1006.6,126.5 L1007.9,128.4 L1009.1,130.3 L1010.2,132.2 L1011.2,134.2 L1012.1,136.1 L1012.8,138.1 L1013.5,140.1 L1014.0,142.1 L1014.4,144.1 L1014.7,146.1 L1014.9,148.2 L1014.9,150.2 L1014.9,152.2 L1014.7,154.2 L1014.4,156.2 L1014.0,158.2 L1013.5,160.2 L1012.9,162.2 L1012.2,164.2 L1011.3,166.2 L1010.3,168.1 L1009.3,170.0 L1008.1,171.9 L1006.8,173.8 L1005.4,175.6 L1003.8,177.5 L1002.2,179.2 L1000.5,181.0 L998.7,182.7 L996.8,184.4 L994.8,186.1 L992.7,187.7 L990.5,189.3 L988.2,190.8 L985.8,192.3 L983.3,193.7 L980.8,195.1 L978.2,196.5 L975.5,197.8 L972.7,199.0 L969.8,200.2 L966.9,201.3 L963.9,202.4 L960.9,203.5 L957.8,204.4 L954.6,205.3 L951.4,206.2 L948.2,207.0 L944.9,207.7 L941.5,208.4 L938.1,209.0 L934.7,209.5 L931.3,210.0 L927.8,210.4 L924.3,210.8 L920.8,211.1 L917.3,211.3 L913.7,211.4 L910.2,211.5 L906.6,211.5 L903.1,211.5 L899.5,211.4 L896.0,211.2 L892.4,211.0 L888.9,210.7 L885.4,210.3 L881.9,209.9 L878.5,209.4 Z" fill="url(#gIsoWall)"/>
<path d="M983.0,156.8 L987.7,159.6 L992.1,162.7 L996.1,165.8 L999.8,169.1 L1003.1,172.6 L1006.0,176.1 L1008.5,179.7 L1010.6,183.4 L1012.3,187.2 L1013.6,191.1 L1014.5,194.9 L1014.9,198.8 L1014.9,202.7 L1014.5,206.6 L1013.6,210.4 L1012.3,214.2 L1010.6,218.0 L1008.5,221.7 L1006.0,225.3 L1003.1,228.8 L999.8,232.2 L996.1,235.4 L992.1,238.5 L987.7,241.5 L983.0,244.3 L978.0,247.0 L972.8,249.4 L967.2,251.7 L961.5,253.7 L955.5,255.5 L949.3,257.2 L942.9,258.6 L936.4,259.7 L929.8,260.6 L923.0,261.3 L916.3,261.8 L909.4,262.0 L902.6,261.9 L895.7,261.6 L889.0,261.1 L882.2,260.3 L875.6,259.3 L869.1,258.1 L862.7,256.6 L856.5,254.9 L850.5,253.0 L844.8,250.9 L839.2,248.6 L834.0,246.1 L829.0,243.4 L824.3,240.5 L819.9,237.5 L815.9,234.3 L812.2,231.0 L808.9,227.6 L806.0,224.0 L803.5,220.4 L801.4,216.7 L799.7,212.9 L798.4,209.1 L797.5,205.2 L797.1,201.3 L797.1,197.5 L797.5,193.6 L798.4,189.7 L799.7,185.9 L801.4,182.2 L803.5,178.5 L806.0,174.9 L808.9,171.4 L812.2,168.0 L815.9,164.7 L819.9,161.6 L824.3,158.6 L829.0,155.8 L834.0,153.2 L839.2,150.7 L844.8,148.5 L850.5,146.4 L856.5,144.6 L862.7,143.0 L869.1,141.6 L875.6,140.4 L882.2,139.5 L889.0,138.8 L895.7,138.4 L902.6,138.2 L909.4,138.2 L916.3,138.5 L923.0,139.0 L929.8,139.8 L936.4,140.8 L942.9,142.0 L949.3,143.5 L955.5,145.2 L961.5,147.1 L967.2,149.2 L972.8,151.6 L978.0,154.1 L983.0,156.8 Z" fill="url(#gIsoLedge)" stroke="#151515" stroke-width="1.15"/>
<path d="M976.5,168.6 L980.8,171.3 L984.8,174.0 L988.5,176.9 L991.8,180.0 L994.9,183.1 L997.5,186.3 L999.8,189.7 L1001.8,193.1 L1003.3,196.5 L1004.5,200.0 L1005.3,203.6 L1005.7,207.1 L1005.7,210.7 L1005.3,214.2 L1004.5,217.8 L1003.3,221.3 L1001.8,224.7 L999.8,228.1 L997.5,231.4 L994.9,234.6 L991.8,237.7 L988.5,240.7 L984.8,243.5 L980.8,246.2 L976.5,248.8 L971.9,251.2 L967.1,253.4 L962.1,255.5 L956.8,257.4 L951.3,259.1 L945.6,260.5 L939.8,261.8 L933.8,262.9 L927.8,263.7 L921.6,264.4 L915.4,264.8 L909.1,265.0 L902.9,264.9 L896.6,264.7 L890.4,264.2 L884.2,263.5 L878.2,262.5 L872.2,261.4 L866.4,260.1 L860.7,258.5 L855.2,256.8 L849.9,254.8 L844.9,252.7 L840.1,250.4 L835.5,247.9 L831.2,245.3 L827.2,242.5 L823.5,239.6 L820.2,236.6 L817.1,233.5 L814.5,230.2 L812.2,226.9 L810.2,223.5 L808.7,220.0 L807.5,216.5 L806.7,213.0 L806.3,209.5 L806.3,205.9 L806.7,202.3 L807.5,198.8 L808.7,195.3 L810.2,191.9 L812.2,188.5 L814.5,185.2 L817.1,182.0 L820.2,178.9 L823.5,175.9 L827.2,173.1 L831.2,170.3 L835.5,167.8 L840.1,165.4 L844.9,163.1 L849.9,161.1 L855.2,159.2 L860.7,157.5 L866.4,156.0 L872.2,154.8 L878.2,153.7 L884.2,152.8 L890.4,152.2 L896.6,151.8 L902.9,151.6 L909.1,151.7 L915.4,151.9 L921.6,152.4 L927.8,153.1 L933.8,154.0 L939.8,155.2 L945.6,156.5 L951.3,158.1 L956.8,159.8 L962.1,161.8 L967.1,163.9 L971.9,166.2 L976.5,168.6 Z" fill="url(#gIsoFloor)" stroke="#151515" stroke-width="1.15"/>
<path d="M984.4,172.7 L991.5,161.6 L1004.6,173.7 L995.5,182.7 Z" fill="#c3c1b4"/>
<path d="M882.2,208.5 L925.5,183.9 Q928,182.4 930.5,182.4 L952.7,182.1 C958,188 961,193 964,197 L958,202 L940,208 L900,212 Z" fill="#dcd8ca"/>
<path d="M882.2,208.5 L925.5,183.9 Q928,182.4 930.5,182.4 L944.6,183.4 L900.3,209.5 L890,211 Z" fill="#d1cfc3"/>
<path d="M868.1,207 L924.5,174.3 Q927.5,172.8 930.5,172.8 L952.7,172.3 C957,172.3 960.5,169.5 965,166 C969.5,162 973,156 975.2,150.4 L982,150 C980.5,157 977,163 971.5,169.3 C966,175.5 961,181 953.2,181.6 L930.5,182.4 Q928,182.4 925.5,183.9 L882.2,208.5 Z" fill="#c9c7ba"/>
<path d="M952.7,172.3 C957,172.3 960.5,169.5 965,166 C969.5,162 973,156 975.2,150.4 L982,150 C980.5,157 977,163 971.5,169.3 C966,175.5 961,181 953.2,181.6 Z" fill="#a9a79b"/>
<path d="M969.2,119.2 C969.5,115.5 971,114 973.2,114.2 C976,114.4 978,115.2 980.3,116.4 C984.5,118.3 988,120.5 990.3,122.2 C993.5,124.8 994.9,127.5 994.9,130.3 L995.4,149.4 C995.4,151.8 994.6,152.9 993.4,152.9 L990.8,153.4 C990,153.6 989.8,154.6 989.8,155.9 L990.5,162.1 C990.3,165 988,168 984.4,171.1 L976.4,176.2 C972.5,178.6 969.5,180 969.3,181.2 C967.2,183 967.3,184 967.3,185.2 L968.3,192.3 C968.3,194.5 966.5,195.8 964.3,196.8 L958.3,201.3 L953,197 L958,186 L962.3,177.2 C966,174 968.5,171 970.3,169.1 C973,166 975,163 976.4,160.1 C975.6,156 975.4,153 975.2,150.4 L974.7,143.9 L970.2,138.3 L968.7,134.3 Z" fill="#d6d3c6"/>
<path d="M969.2,119.2 C969.5,115.5 971,114 973.2,114.2 C976,114.4 978,115.2 980.3,116.4 L981.3,120.2 L982.3,132.3 L983.8,141.3 L984.3,145.4 L976.8,153.6 L975.2,150.4 L974.7,143.9 L970.2,138.3 L968.7,134.3 Z" fill="#98968b"/>
<path d="M984.3,145.4 L983.5,153 C981.5,160 977.5,166 971.5,171 L962.3,177.2 L970.3,169.1 C973,166 975,163 976.4,160.1 L976.8,153.6 Z" fill="#8d8b80"/>
<path d="M868.1,207 L924.5,174.3 Q927.5,172.8 930.5,172.8 L952.7,172.3 C957,172.3 960.5,169.5 965,166 C969.5,162 973.2,157 975.2,150.4 L974.7,143.9 L970.2,138.3 L968.7,134.3 L969.2,119.2 C969.5,115.5 971,114 973.2,114.2 C976,114.4 978,115.2 980.3,116.4 C984.5,118.3 988,120.5 990.3,122.2 C993.5,124.8 994.9,127.5 994.9,130.3 L995.4,149.4 C995.4,151.8 994.6,152.9 993.4,152.9 L990.8,153.4 C990,153.6 989.8,154.6 989.8,155.9 L990.5,162.1 C990.3,165 988,168 984.4,171.1 L976.4,176.2 C972.5,178.6 969.5,180 968.3,182.2 C967.2,183.6 967.3,184.4 967.3,185.2 L968.3,192.3 C968.3,194.5 966.5,195.8 964.3,196.8 L958.3,201.3" fill="none" stroke="#151515" stroke-width="2.1"/>
<path d="M882.2,208.5 L925.5,183.9 Q928,182.4 930.5,182.4 L953.2,181.6 C958,181.2 962,178 966,173.5 C971,168 975,162 976.6,156.5 C977.5,153 982,148.5 984.3,145.4 L983.8,141.3 L982.3,132.3 L981.3,120.2 L980.3,116.4" fill="none" stroke="#151515" stroke-width="2.1"/>
<line x1="925.0" y1="174.6" x2="925.0" y2="183.8" stroke="#151515" stroke-width="1.60" />
<line x1="933.1" y1="173.6" x2="933.1" y2="182.8" stroke="#151515" stroke-width="1.60" />
<line x1="949.2" y1="173.6" x2="949.2" y2="182.8" stroke="#151515" stroke-width="1.60" />
<line x1="956.7" y1="172.2" x2="956.7" y2="181.2" stroke="#151515" stroke-width="1.60" />
<line x1="894.8" y1="202.5" x2="894.8" y2="210.0" stroke="#151515" stroke-width="1.60" />
<path d="M900.3,209.5 L944.6,183.4 M955.2,181.6 C955.5,186 958,191.5 963.6,197 M968.3,172.7 L980.4,171.6 M969.7,131.8 L981.6,126.6 M974.7,143.9 L984,141 M991.5,161.6 L1004.6,173.7" fill="none" stroke="#151515" stroke-width="1.1"/>
<path d="M984.4,172.7 L995.5,182.7" fill="none" stroke="#151515" stroke-width="2.1"/>
</g>
<path d="M818.5,198.8 L800.6,164.6 L799.8,162.7 L799.0,160.7 L798.4,158.7 L797.9,156.7 L797.5,154.7 L797.3,152.6 L797.1,150.6 L797.1,148.6 L797.1,146.6 L797.3,144.6 L797.6,142.6 L798.1,140.6 L798.6,138.6 L799.3,136.6 L800.0,134.6 L800.9,132.7 L801.9,130.7 L803.0,128.8 L804.2,126.9 L805.6,125.0 L807.0,123.2 L808.5,121.4 L810.2,119.6 L811.9,117.9 L813.7,116.1 L815.7,114.5 L817.7,112.8 L819.8,111.2 L822.1,109.6 L824.4,108.1 L826.8,106.6 L829.3,105.2 L831.8,103.8 L834.5,102.5 L837.2,101.2 L840.0,100.0 L842.9,98.8 L845.8,97.7 L848.8,96.6 L851.8,95.6 L854.9,94.6 L858.1,93.7 L861.3,92.9 L864.6,92.1 L867.9,91.4 L871.3,90.7 L874.7,90.1 L878.1,89.6 L881.5,89.2 L885.0,88.8 L888.5,88.4 L892.0,88.1 L895.6,87.9 L899.1,87.8 L902.7,87.7 L906.2,87.7 L909.8,87.8 L913.3,87.9 L916.9,88.1 L920.4,88.4 L923.9,88.7 L927.4,89.1 L930.9,89.5 L934.3,90.0 L937.7,90.6 L941.1,91.2 L944.5,92.0 L947.8,92.7 L951.0,93.5 L954.3,94.4 L957.4,95.4 L960.5,96.4 L963.6,97.4 L966.6,98.5 L969.5,99.7 L972.3,100.9 L975.1,102.2 L977.8,103.5 L980.5,104.9 L983.0,106.3 L985.5,107.8 L987.9,109.3 L990.2,110.9 L992.4,112.5 L994.5,114.1 L996.5,115.8 L998.5,117.5 L1000.3,119.2 L1002.0,121.0 L1003.7,122.8 L1005.2,124.6 L1006.6,126.5 L1007.9,128.4 L1009.1,130.3 L1010.2,132.2 L1011.2,134.2 L1012.1,136.1 L1012.8,138.1 L1013.5,140.1 L1014.0,142.1 L1014.4,144.1 L1014.7,146.1 L1014.9,148.2 L1014.9,150.2 L1014.9,152.2 L1014.7,154.2 L1014.4,156.2 L1014.0,158.2 L1013.5,160.2 L1012.9,162.2 L1012.2,164.2 L1011.3,166.2 L1010.3,168.1 L1009.3,170.0 L1008.1,171.9 L1006.8,173.8 L1005.4,175.6 L1003.8,177.5 L1002.2,179.2 L1000.5,181.0 L998.7,182.7 L996.8,184.4 L994.8,186.1 L992.7,187.7 L990.5,189.3 L988.2,190.8 L985.8,192.3 L983.3,193.7 L980.8,195.1 L978.2,196.5 L975.5,197.8 L972.7,199.0 L969.8,200.2 L966.9,201.3 L963.9,202.4 L960.9,203.5 L957.8,204.4 L954.6,205.3 L951.4,206.2 L948.2,207.0 L944.9,207.7 L941.5,208.4 L938.1,209.0 L934.7,209.5 L931.3,210.0 L927.8,210.4 L924.3,210.8 L920.8,211.1 L917.3,211.3 L913.7,211.4 L910.2,211.5 L906.6,211.5 L903.1,211.5 L899.5,211.4 L896.0,211.2 L892.4,211.0 L888.9,210.7 L885.4,210.3 L881.9,209.9 L878.5,209.4 Z" fill="none" stroke="#151515" stroke-width="2.2"/>
<clipPath id="cpSlope"><path d="M940.6,51.1 L1076.1,129.0 L1120.5,89.3 L985.0,11.4 Z"/></clipPath>
<ellipse cx="1001.3" cy="53.2" rx="36.3" ry="26.3" fill="url(#gIsoPinSh)" clip-path="url(#cpSlope)"/>
<path d="M980.2,20.5 L980.2,52.7 A18.6,10.7 0 0 0 1017.4,52.7 L1017.4,20.5 A18.6,18.6 0 0 0 980.2,20.5 Z" fill="url(#gIsoPin)"/>
<path d="M980.2,20.5 A18.6,18.6 0 0 1 1017.4,20.5 A18.6,10.7 0 0 1 980.2,20.5 Z" fill="url(#gIsoDome)"/>
<path d="M980.2,20.5 A18.6,10.7 0 0 0 1017.4,20.5" fill="none" stroke="#151515" stroke-width="1.0"/>
<path d="M980.2,20.5 L980.2,52.7 A18.6,10.7 0 0 0 1017.4,52.7 L1017.4,20.5 A18.6,18.6 0 0 0 980.2,20.5 Z" fill="none" stroke="#151515" stroke-width="2.0"/>
<ellipse cx="1066.0" cy="90.1" rx="36.7" ry="26.6" fill="url(#gIsoPinSh)" clip-path="url(#cpSlope)"/>
<path d="M1044.7,57.4 L1044.7,89.6 A18.8,10.8 0 0 0 1082.3,89.6 L1082.3,57.4 A18.8,18.8 0 0 0 1044.7,57.4 Z" fill="url(#gIsoPin)"/>
<path d="M1044.7,57.4 A18.8,18.8 0 0 1 1082.3,57.4 A18.8,10.8 0 0 1 1044.7,57.4 Z" fill="url(#gIsoDome)"/>
<path d="M1044.7,57.4 A18.8,10.8 0 0 0 1082.3,57.4" fill="none" stroke="#151515" stroke-width="1.0"/>
<path d="M1044.7,57.4 L1044.7,89.6 A18.8,10.8 0 0 0 1082.3,89.6 L1082.3,57.4 A18.8,18.8 0 0 0 1044.7,57.4 Z" fill="none" stroke="#151515" stroke-width="2.0"/>
<line x1="1045.0" y1="160.2" x2="1045.0" y2="306.6" stroke="#151515" stroke-width="1.10" />
<line x1="1052.4" y1="151.4" x2="1052.4" y2="297.7" stroke="#151515" stroke-width="1.10" />
<line x1="1045.0" y1="160.2" x2="1039.3" y2="155.7" stroke="#151515" stroke-width="1.10" />
<line x1="1052.4" y1="151.4" x2="1049.2" y2="144.5" stroke="#151515" stroke-width="1.10" />
<path d="M773.5,318.8 L775.2,321.7 L777.0,324.5 L778.9,327.2 L781.1,329.9 L783.4,332.6 L785.9,335.2 L788.6,337.8 L791.5,340.3 L794.5,342.7 L797.7,345.1 L801.0,347.4 L804.5,349.6 L808.1,351.8 L811.8,353.8 L815.7,355.8 L819.7,357.7 L823.9,359.6 L828.1,361.3 L832.5,363.0 L837.0,364.5 L841.6,366.0 L846.2,367.3 L851.0,368.6 L855.8,369.7 L860.7,370.8 L865.6,371.7 L870.7,372.6 L875.7,373.3 L880.8,373.9 L886.0,374.5 L891.2,374.9 L896.3,375.2 L901.6,375.3 L906.8,375.4 L912.0,375.4 L917.2,375.2 L922.4,375.0 L927.5,374.6 L932.7,374.1 L937.8,373.5 L942.8,372.8 L947.8,372.0 L952.8,371.1 L957.6,370.1 L962.5,368.9 L967.2,367.7 L971.8,366.4 L976.3,364.9 L980.8,363.4 L985.1,361.8 L989.3,360.1 L993.5,358.3 L997.4,356.4 L1001.3,354.4 L1005.0,352.4 L1008.6,350.2 L1012.0,348.0 L1015.3,345.7 L1018.4,343.4 L1021.4,340.9 L1024.2,338.5 L1026.8,335.9 L1029.3,333.3 L1031.6,330.7 L1033.7,328.0 L1035.6,325.2 L1037.3,322.5 L1038.9,319.6 L1040.3,316.8 L1041.5,313.9 L1042.4,311.0 L1043.2,308.1 L1043.8,305.1 L1044.1,304.1 L1044.4,303.2" fill="none" stroke="#151515" stroke-width="0.7" opacity="0.8"/>
<g transform="matrix(0.7080 -0.3980 0.0000 0.8135 784.15 126.05)" fill="none" stroke="#1d1d1b" stroke-width="3.0" stroke-linejoin="round" stroke-linecap="round">
<path d="M372,339.9 L410.4,339.9 L410.4,343 C410.4,354 403.8,361.6 395.2,361.6 L388.9,361.6 C379,361.6 372,354 372,343 Z" fill="#bdbbb0" stroke="none"/>
<path d="M392,362.3 C392,373.2 398.8,380.1 410.3,380.1 C422.5,380.1 428.4,372 429.3,358 C430.3,343 432.8,326 453.4,326 C466.6,326 474.3,335 474.3,346.5 C474.3,354.8 470.7,360.1 466.8,360.1" stroke="#4e4c46" stroke-width="5.6" opacity="0.8"/>
<path d="M377.6,339.2 L377.6,321.8 A2.75,2.75 0 0 1 383.1,321.8 L383.1,339.2 Z M400.2,339.2 L400.2,321.8 A2.75,2.75 0 0 1 405.8,321.8 L405.8,339.2 Z" fill="#3b3a36" stroke="none"/>
<path d="M377.6,339.2 L377.6,321.8 A2.75,2.75 0 0 1 383.1,321.8 L383.1,339.2 L400.2,339.2 L400.2,321.8 A2.75,2.75 0 0 1 405.8,321.8 L405.8,339.2 L410.3,339.2 Q411.3,339.2 411.3,340.4 L411.3,343 C411.3,354 403.8,362.3 395.2,362.3 C395.2,371.5 400.5,377.2 410.3,377.2 C420.5,377.2 425.6,370.5 426.4,358 C427.4,342 429.5,323.2 453.4,323.2 C468.2,323.2 476.8,333.5 476.8,346.5 C476.8,356.5 471.8,362.6 466.6,362.6 C463.4,362.6 461.2,361.2 460.2,359.4 C457.6,361.8 454.2,363 450.6,363 C441.2,363 435.8,355.8 435.8,347 C435.8,338 442,331.8 451,331.8 C457.5,331.8 462,333.4 464.6,336.8" /><path d="M377.6,339.2 L372,339.2 Q371,339.2 371,340.4 L371,343 C371,354 378.8,362.3 388.9,362.3 C388.9,375 397,383 410.3,383 C424.5,383 431.2,373.6 432.2,358 C433.2,344 436,328.7 453.4,328.7 C465,328.7 471.8,336.4 471.8,346.5 C471.8,353 470.9,357.8 468.7,357.8 C466.5,357.8 466.4,355 466.4,350 C466.4,344 466.8,339.6 464.6,336.8" /><path d="M388.9,362.3 L395.2,362.3" /><ellipse cx="450.7" cy="347" rx="9.3" ry="10.2"/>
</g>
</g>
<g id="dims">
<line x1="7.0" y1="145.6" x2="441.0" y2="145.6" stroke="#2a2a2a" stroke-width="1.25" />
<line x1="7.0" y1="397.8" x2="134.0" y2="397.8" stroke="#2a2a2a" stroke-width="1.25" />
<line x1="15.2" y1="145.6" x2="15.2" y2="397.8" stroke="#2a2a2a" stroke-width="1.25" />
<polygon points="15.2,145.6 12.3,159.1 18.1,159.1" fill="#111"/>
<polygon points="15.2,397.8 12.3,384.3 18.1,384.3" fill="#111"/>
<line x1="53.0" y1="209.8" x2="132.0" y2="209.8" stroke="#2a2a2a" stroke-width="1.25" />
<line x1="60.9" y1="209.8" x2="60.9" y2="397.8" stroke="#2a2a2a" stroke-width="1.25" />
<polygon points="60.9,209.8 58.0,223.3 63.8,223.3" fill="#111"/>
<polygon points="60.9,397.8 58.0,384.3 63.8,384.3" fill="#111"/>
<line x1="134.7" y1="400.0" x2="134.7" y2="481.0" stroke="#2a2a2a" stroke-width="1.25" />
<line x1="480.2" y1="400.0" x2="480.2" y2="444.0" stroke="#2a2a2a" stroke-width="1.25" />
<line x1="134.7" y1="436.7" x2="480.2" y2="436.7" stroke="#2a2a2a" stroke-width="1.25" />
<polygon points="134.7,436.7 148.2,433.8 148.2,439.6" fill="#111"/>
<polygon points="480.2,436.7 466.7,433.8 466.7,439.6" fill="#111"/>
<line x1="548.4" y1="300.0" x2="548.4" y2="481.0" stroke="#2a2a2a" stroke-width="1.25" />
<line x1="134.7" y1="473.4" x2="548.4" y2="473.4" stroke="#2a2a2a" stroke-width="1.25" />
<polygon points="134.7,473.4 148.2,470.5 148.2,476.3" fill="#111"/>
<polygon points="548.4,473.4 534.9,470.5 534.9,476.3" fill="#111"/>
<line x1="23.4" y1="517.1" x2="272.0" y2="517.1" stroke="#2a2a2a" stroke-width="1.25" />
<line x1="23.4" y1="793.8" x2="272.0" y2="793.8" stroke="#2a2a2a" stroke-width="1.25" />
<line x1="31.2" y1="517.1" x2="31.2" y2="793.8" stroke="#2a2a2a" stroke-width="1.25" />
<polygon points="31.2,517.1 28.3,530.6 34.1,530.6" fill="#111"/>
<polygon points="31.2,793.8 28.3,780.3 34.1,780.3" fill="#111"/>
<line x1="531.0" y1="587.0" x2="607.3" y2="587.0" stroke="#2a2a2a" stroke-width="1.25" />
<line x1="531.0" y1="723.9" x2="607.3" y2="723.9" stroke="#2a2a2a" stroke-width="1.25" />
<line x1="599.0" y1="587.0" x2="599.0" y2="723.9" stroke="#2a2a2a" stroke-width="1.25" />
<polygon points="599.0,587.0 596.1,600.5 601.9,600.5" fill="#111"/>
<polygon points="599.0,723.9 596.1,710.4 601.9,710.4" fill="#111"/>
<line x1="487.8" y1="554.5" x2="653.4" y2="554.5" stroke="#2a2a2a" stroke-width="1.25" />
<line x1="487.8" y1="756.1" x2="653.4" y2="756.1" stroke="#2a2a2a" stroke-width="1.25" />
<line x1="645.3" y1="554.5" x2="645.3" y2="756.1" stroke="#2a2a2a" stroke-width="1.25" />
<polygon points="645.3,554.5 642.4,568.0 648.2,568.0" fill="#111"/>
<polygon points="645.3,756.1 642.4,742.6 648.2,742.6" fill="#111"/>
<line x1="1188.0" y1="477.9" x2="1200.0" y2="477.9" stroke="#555" stroke-width="2.00" />
<text x="307.4" y="426.6" font-size="18.6" text-anchor="middle">(91.8)</text>
<text x="341.2" y="464.0" font-size="18.6" text-anchor="middle">Total Length 109.8</text>
<text transform="translate(51.8,304.0) rotate(-90)" font-size="18.6" text-anchor="middle">(50)</text>
<text transform="translate(6.1,271.3) rotate(-90)" font-size="18.6" text-anchor="middle">Total Height67</text>
<text transform="translate(26.2,655) rotate(-90)" font-size="18.6" text-anchor="middle">Total Width73.6</text>
<text transform="translate(588.8,655.4) rotate(-90)" font-size="18.6" text-anchor="middle">(36.5)</text>
<text transform="translate(635.9,655.4) rotate(-90)" font-size="18.6" text-anchor="middle">(53.67)</text>
<text x="1000.8" y="754.3" font-size="26.5" text-anchor="middle">All dimensions in mm</text>
</g>
</svg>
</body>
</html>
